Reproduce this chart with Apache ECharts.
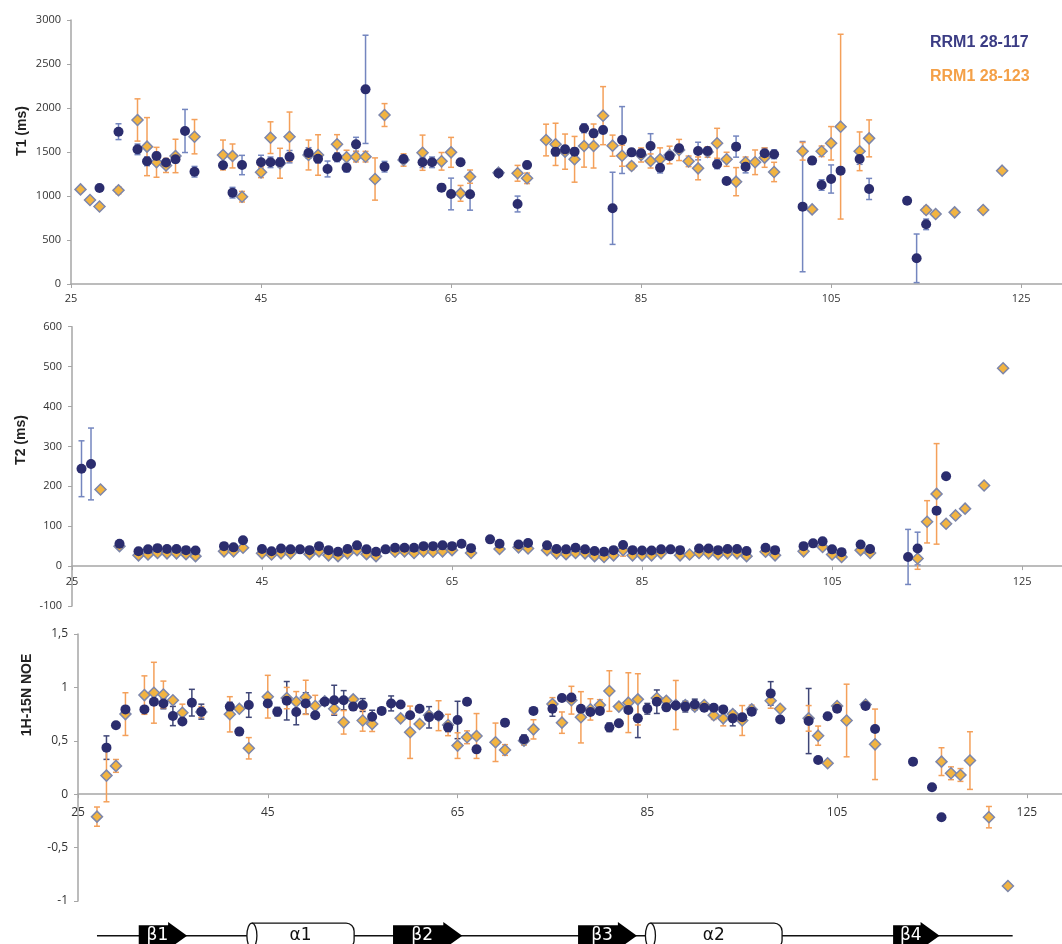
<!DOCTYPE html>
<html>
<head>
<meta charset="utf-8">
<script src="https://cdn.jsdelivr.net/npm/echarts@6.0.0/dist/echarts.min.js"></script>
<style>
  html, body { margin: 0; padding: 0; background: #fff; }
  #chart { width: 1062px; height: 944px; }
</style>
</head>
<body>
<div id="chart"></div>
<script>
// [residue, value, error]
const t1Short = [
  [28,1090,0],[30,1731,90],[32,1530,60],[33,1394,50],[34,1455,40],[35,1380,40],[36,1417,40],[37,1739,245],[38,1276,60],
  [41,1349,40],[42,1038,60],[43,1352,110],[45,1383,80],[46,1383,60],[47,1383,50],[48,1447,70],[50,1489,60],[51,1424,50],
  [52,1307,90],[53,1440,50],[54,1322,50],[55,1587,80],[56,2212,615],[58,1333,60],[60,1420,40],[62,1383,60],[63,1383,60],
  [64,1095,40],[65,1023,180],[66,1383,30],[67,1019,180],[70,1258,30],[72,909,90],[73,1352,40],[76,1504,50],[77,1530,40],
  [78,1504,40],[79,1769,50],[80,1712,40],[81,1750,40],[82,860,410],[83,1636,380],[84,1496,40],[85,1485,40],[86,1568,140],
  [87,1322,60],[88,1455,40],[89,1542,40],[91,1511,100],[92,1511,40],[93,1360,50],[94,1170,30],[95,1561,120],[96,1333,70],
  [98,1485,60],[99,1474,50],[102,879,740],[103,1402,30],[104,1125,60],[105,1193,160],[106,1288,0],[108,1420,60],
  [109,1080,120],[113,947,30],[114,292,276],[115,678,60]
];
const t1Long = [
  [26,1075,0],[27,955,0],[28,880,0],[30,1065,40],[32,1864,240],[33,1561,330],[34,1383,170],[35,1347,80],[36,1455,190],
  [38,1674,195],[41,1466,170],[42,1455,136],[43,992,60],[45,1269,60],[46,1663,180],[47,1372,170],[48,1674,280],
  [50,1466,170],[51,1466,230],[53,1587,110],[54,1440,80],[55,1447,60],[56,1447,60],[57,1193,240],[58,1920,130],
  [60,1409,70],[62,1492,200],[64,1394,100],[65,1496,170],[66,1030,90],[67,1220,75],[70,1265,30],[72,1258,90],
  [73,1201,60],[75,1636,180],[76,1587,240],[77,1504,200],[78,1417,260],[79,1568,240],[80,1568,250],[81,1913,330],
  [82,1572,120],[83,1458,120],[84,1341,40],[85,1466,80],[86,1398,80],[87,1417,130],[88,1466,100],[89,1523,120],
  [90,1394,60],[91,1314,130],[92,1500,60],[93,1599,170],[94,1417,80],[95,1163,160],[96,1383,60],[97,1383,140],
  [98,1436,110],[99,1273,110],[102,1508,100],[103,848,0],[104,1508,60],[105,1599,190],[106,1788,1050],[108,1508,220],
  [109,1655,210],[115,841,40],[116,795,0],[118,814,0],[121,841,0],[123,1288,0]
];
const t2Short = [
  [26,244,70],[27,256,90],[30,56,0],[32,37,0],[33,42,0],[34,45,0],[35,43,0],[36,43,0],[37,40,0],[38,39,0],[41,50,0],
  [42,47,0],[43,65,0],[45,43,0],[46,37,0],[47,44,0],[48,42,0],[49,42,0],[50,40,0],[51,50,0],[52,40,0],[53,36,0],
  [54,43,0],[55,52,0],[56,42,0],[57,36,0],[58,42,0],[59,46,0],[60,46,0],[61,46,0],[62,50,0],[63,50,0],[64,52,0],
  [65,50,0],[66,56,0],[67,45,0],[69,67,0],[70,56,0],[72,54,0],[73,58,0],[75,52,0],[76,43,0],[77,42,0],[78,46,0],
  [79,42,0],[80,38,0],[81,36,0],[82,40,0],[83,53,0],[84,40,0],[85,39,0],[86,39,0],[87,42,0],[88,42,0],[89,40,0],
  [91,44,0],[92,44,0],[93,40,0],[94,43,0],[95,43,0],[96,38,0],[98,46,0],[99,40,0],[102,50,0],[103,57,0],[104,62,0],
  [105,42,0],[106,35,0],[108,54,0],[109,43,0],[113,23,69],[114,44,41],[116,139,0],[117,225,0]
];
const t2Long = [
  [28,192,0],[30,50,0],[32,27,0],[33,29,0],[34,33,0],[35,32,0],[36,32,0],[37,30,0],[38,25,0],[41,37,0],[42,37,0],
  [43,46,0],[45,32,0],[46,29,0],[47,32,0],[48,32,0],[50,30,0],[51,37,0],[52,27,0],[53,25,0],[54,32,0],[55,40,0],
  [56,30,0],[57,25,0],[59,36,0],[60,37,0],[61,33,0],[62,37,0],[63,36,0],[64,37,0],[65,40,0],[67,33,0],[70,43,0],
  [72,47,0],[73,44,0],[75,40,0],[76,32,0],[77,30,0],[78,33,0],[79,32,0],[80,25,0],[81,23,0],[82,27,0],[83,40,15],
  [84,27,0],[85,27,0],[86,27,0],[87,32,0],[89,27,0],[90,29,0],[91,33,0],[92,32,0],[93,29,0],[94,32,0],[95,32,0],
  [96,25,0],[98,36,0],[99,27,0],[102,37,0],[104,48,0],[105,29,0],[106,23,0],[108,40,0],[109,33,0],[114,19,27],
  [115,111,53],[116,181,126],[117,106,0],[118,127,0],[119,144,0],[121,202,0],[123,496,0]
];
const noeShort = [
  [28,0.436,0.11],[29,0.645,0],[30,0.794,0],[32,0.794,0],[33,0.866,0],[34,0.85,0.05],[35,0.732,0.09],[36,0.68,0],
  [37,0.857,0.125],[38,0.773,0.07],[41,0.82,0.04],[42,0.586,0],[43,0.835,0.115],[45,0.85,0],[46,0.773,0.04],
  [47,0.875,0.18],[48,0.77,0.12],[49,0.85,0.1],[50,0.74,0],[51,0.866,0],[52,0.88,0.14],[53,0.88,0.09],[54,0.82,0],
  [55,0.835,0.06],[56,0.726,0.06],[57,0.78,0],[58,0.85,0.07],[59,0.84,0],[60,0.74,0],[61,0.8,0],[62,0.72,0.1],
  [63,0.735,0],[64,0.626,0.04],[65,0.695,0.175],[66,0.866,0],[67,0.42,0],[70,0.67,0],[72,0.514,0.04],[73,0.78,0],
  [75,0.8,0.07],[76,0.9,0],[77,0.906,0],[78,0.8,0],[79,0.77,0],[80,0.78,0],[81,0.626,0.04],[82,0.664,0],[83,0.788,0],
  [84,0.71,0.18],[85,0.8,0.05],[86,0.866,0.11],[87,0.813,0],[88,0.83,0],[89,0.82,0.05],[90,0.84,0.05],[91,0.81,0],
  [92,0.81,0.03],[93,0.794,0],[94,0.71,0.07],[95,0.72,0],[96,0.773,0],[98,0.944,0.11],[99,0.7,0],[102,0.685,0.305],
  [103,0.32,0],[104,0.73,0],[105,0.8,0],[108,0.826,0],[109,0.61,0],[113,0.305,0],[115,0.065,0],[116,-0.215,0]
];
const noeLong = [
  [27,-0.21,0.09],[28,0.174,0.245],[29,0.265,0.06],[30,0.75,0.2],[32,0.928,0.18],[33,0.95,0.285],[34,0.934,0.125],
  [35,0.88,0],[36,0.763,0.08],[38,0.77,0.05],[41,0.748,0.165],[42,0.8,0],[43,0.43,0.1],[45,0.913,0.2],[47,0.9,0.1],
  [48,0.866,0.095],[49,0.907,0.16],[50,0.826,0.1],[51,0.87,0],[52,0.8,0.05],[53,0.673,0.11],[54,0.888,0],[55,0.69,0.1],
  [56,0.657,0.07],[59,0.71,0],[60,0.58,0.245],[61,0.657,0],[62,0.74,0],[63,0.735,0.14],[64,0.648,0.1],[65,0.455,0.12],
  [66,0.533,0.06],[67,0.545,0.21],[69,0.486,0.18],[70,0.414,0.05],[72,0.5,0.04],[73,0.607,0.09],[75,0.844,0.06],
  [76,0.67,0.1],[77,0.88,0.13],[78,0.72,0.24],[79,0.794,0.1],[80,0.835,0.05],[81,0.966,0.19],[82,0.82,0],
  [83,0.857,0.28],[84,0.888,0.24],[86,0.9,0],[87,0.875,0],[88,0.835,0.23],[89,0.835,0],[90,0.82,0],[91,0.835,0],
  [92,0.74,0.04],[93,0.71,0.07],[94,0.75,0],[95,0.69,0.14],[96,0.794,0.04],[98,0.875,0.07],[99,0.8,0],[102,0.71,0.12],
  [103,0.548,0.09],[104,0.29,0],[105,0.826,0],[106,0.69,0.34],[108,0.84,0],[109,0.467,0.33],[116,0.305,0.13],
  [117,0.196,0.06],[118,0.18,0.06],[119,0.315,0.27],[121,-0.215,0.1],[123,-0.86,0]
];
const xTicks = [25, 45, 65, 85, 105, 125];
const seriesNames = ['RRM1 28-117', 'RRM1 28-123'];
// secondary structure, residue ranges
const coilRange = [27, 123.5];
const strands = [['β1', 31.4, 36.5], ['β2', 58.2, 65.5], ['β3', 77.7, 83.9], ['β4', 110.9, 115.8]];
const helices = [['α1', 42.8, 54.1], ['α2', 84.8, 99.2]];

const NAVY = '#2b2d6e';
const ORANGE_FILL = '#f2b441';
const ORANGE_BAR = '#f4a05a';
const AXIS = '#a6a6a6';
const FONT = '"Open Sans", sans-serif';

// zeroShift: distance in px from grid bottom up to the value 0 line
const panels = [
  { top: 20, height: 264, left: 71, xMax: 129.3, yMin: 0, yMax: 3000, step: 500, margin: 9, size: 11, zeroShift: 0,
    a: t1Short, b: t1Long, navyBar: '#7486bf' },
  { top: 326.7, height: 279.3, left: 72, xMax: 129.2, yMin: -100, yMax: 600, step: 100, margin: 10, size: 11, zeroShift: 39.9,
    a: t2Short, b: t2Long, navyBar: '#7486bf' },
  { top: 634, height: 267, left: 78, xMax: 128.7, yMin: -1, yMax: 1.5, step: 0.5, margin: 12, size: 12, zeroShift: 106.8,
    a: noeShort, b: noeLong, navyBar: '#3f4677' }
];

function errorBars (idx, data, color) {
  return {
    type: 'custom', xAxisIndex: idx, yAxisIndex: idx, z: 1, silent: true,
    data: data.filter(d => d[2] > 0),
    renderItem (params, api) {
      const x = api.value(0), y = api.value(1), e = api.value(2)
      const t = api.coord([x, y + e]), b = api.coord([x, y - e])
      const st = { stroke: color, lineWidth: 1.5 }
      return {
        type: 'group',
        children: [
          { type: 'line', shape: { x1: t[0], y1: t[1], x2: b[0], y2: b[1] }, style: st },
          { type: 'line', shape: { x1: t[0] - 3, y1: t[1], x2: t[0] + 3, y2: t[1] }, style: st },
          { type: 'line', shape: { x1: b[0] - 3, y1: b[1], x2: b[0] + 3, y2: b[1] }, style: st }
        ]
      }
    }
  }
}

const grid = [], xAxis = [], yAxis = [], series = []
panels.forEach((p, i) => {
  grid.push({ left: p.left, top: p.top, height: p.height, right: 0, outerBoundsMode: 'none' })
  xAxis.push({
    type: 'value', gridIndex: i, min: 25, max: p.xMax, offset: -p.zeroShift,
    axisLine: { onZero: false, lineStyle: { color: AXIS, width: 1.5 } },
    axisTick: { customValues: xTicks, length: 4, lineStyle: { color: AXIS } },
    axisLabel: { customValues: xTicks, color: '#333', fontSize: p.size, fontFamily: FONT, margin: p.margin },
    splitLine: { show: false }
  })
  yAxis.push({
    type: 'value', gridIndex: i, min: p.yMin, max: p.yMax, interval: p.step,
    axisLine: { show: true, onZero: false, lineStyle: { color: AXIS, width: 1.5 } },
    axisTick: { show: true, length: 4, lineStyle: { color: AXIS } },
    axisLabel: {
      color: '#333', fontSize: p.size, fontFamily: FONT, margin: 10,
      formatter: v => String(v).replace('.', ',')
    },
    splitLine: { show: false }
  })
  series.push(errorBars(i, p.a, p.navyBar))
  series.push(errorBars(i, p.b, ORANGE_BAR))
  series.push({
    name: seriesNames[1], type: 'scatter', xAxisIndex: i, yAxisIndex: i, z: 2,
    symbol: 'diamond', symbolSize: 11, data: p.b.map(d => [d[0], d[1]]),
    itemStyle: { color: ORANGE_FILL, borderColor: '#7d86aa', borderWidth: 1.5, opacity: 1 }
  })
  series.push({
    name: seriesNames[0], type: 'scatter', xAxisIndex: i, yAxisIndex: i, z: 3,
    symbol: 'circle', symbolSize: 10, data: p.a.map(d => [d[0], d[1]]),
    itemStyle: { color: NAVY, opacity: 1 }
  })
})

// secondary structure strip, same x scale as the NOE panel
grid.push({ left: 78, top: 913.7, height: 44, right: 0, outerBoundsMode: 'none' })
xAxis.push({ type: 'value', gridIndex: 3, min: 25, max: 128.7, show: false })
yAxis.push({ type: 'value', gridIndex: 3, min: -1, max: 1, show: false })
series.push({
  type: 'custom', xAxisIndex: 3, yAxisIndex: 3, z: 1, silent: true, clip: false,
  data: [coilRange],
  renderItem (params, api) {
    const a = api.coord([api.value(0), 0]), b = api.coord([api.value(1), 0])
    return { type: 'line', shape: { x1: a[0], y1: a[1], x2: b[0], y2: b[1] }, style: { stroke: '#111', lineWidth: 1.5 } }
  }
})
series.push({
  type: 'custom', xAxisIndex: 3, yAxisIndex: 3, z: 2, silent: true, clip: false,
  data: strands.map(s => [s[1], s[2]]),
  renderItem (params, api) {
    const a = api.coord([api.value(0), 0]), b = api.coord([api.value(1), 0])
    const u = api.size([0, 1])[1]
    const y = a[1], bh = 0.48 * u, hh = 0.62 * u, hl = 19
    const x0 = a[0], x1 = b[0], xm = x1 - hl
    return {
      type: 'group',
      children: [
        { type: 'polygon',
          shape: { points: [[x0, y - bh], [xm, y - bh], [xm, y - hh], [x1, y], [xm, y + hh], [xm, y + bh], [x0, y + bh]] },
          style: { fill: '#000' } },
        { type: 'text', x: (x0 + xm) / 2 + 4, y: y,
          style: { text: strands[params.dataIndex][0], fill: '#fff', font: '17px "DejaVu Sans"', align: 'center', verticalAlign: 'middle' } }
      ]
    }
  }
})
series.push({
  type: 'custom', xAxisIndex: 3, yAxisIndex: 3, z: 2, silent: true, clip: false,
  data: helices.map(h => [h[1], h[2]]),
  renderItem (params, api) {
    const a = api.coord([api.value(0), 0]), b = api.coord([api.value(1), 0])
    const u = api.size([0, 1])[1]
    const y = a[1], hh = 0.57 * u, rx = 5
    const x0 = a[0], x1 = b[0]
    const st = { fill: '#fff', stroke: '#111', lineWidth: 1.3 }
    return {
      type: 'group',
      children: [
        { type: 'rect', shape: { x: x0 + rx, y: y - hh, width: x1 - x0 - rx, height: 2 * hh, r: [0, 8, 8, 0] }, style: st },
        { type: 'ellipse', shape: { cx: x0 + rx, cy: y, rx: rx, ry: hh }, style: st },
        { type: 'text', x: (x0 + x1) / 2, y: y,
          style: { text: helices[params.dataIndex][0], fill: '#111', font: '17px "DejaVu Sans"', align: 'center', verticalAlign: 'middle' } }
      ]
    }
  }
})

const titleFont = 'bold 14px "Liberation Sans", Arial, sans-serif'
const chart = echarts.init(document.getElementById('chart'))
chart.setOption({
  animation: false,
  backgroundColor: '#fff',
  grid, xAxis, yAxis, series,
  graphic: [
    { type: 'text', x: 22, y: 131, rotation: Math.PI / 2,
      style: { text: 'T1 (ms)', font: titleFont, fill: '#222', align: 'center', verticalAlign: 'middle' } },
    { type: 'text', x: 21, y: 440, rotation: Math.PI / 2,
      style: { text: 'T2 (ms)', font: titleFont, fill: '#222', align: 'center', verticalAlign: 'middle' } },
    { type: 'text', x: 27, y: 695, rotation: Math.PI / 2,
      style: { text: '1H-15N NOE', font: titleFont, fill: '#222', align: 'center', verticalAlign: 'middle' } },
    { type: 'text', x: 930, y: 43,
      style: { text: seriesNames[0], font: 'bold 16px "Liberation Sans", Arial, sans-serif', fill: '#3b3c84', verticalAlign: 'middle' } },
    { type: 'text', x: 930, y: 77,
      style: { text: seriesNames[1], font: 'bold 16px "Liberation Sans", Arial, sans-serif', fill: '#f4a047', verticalAlign: 'middle' } }
  ]
})
</script>
</body>
</html>
